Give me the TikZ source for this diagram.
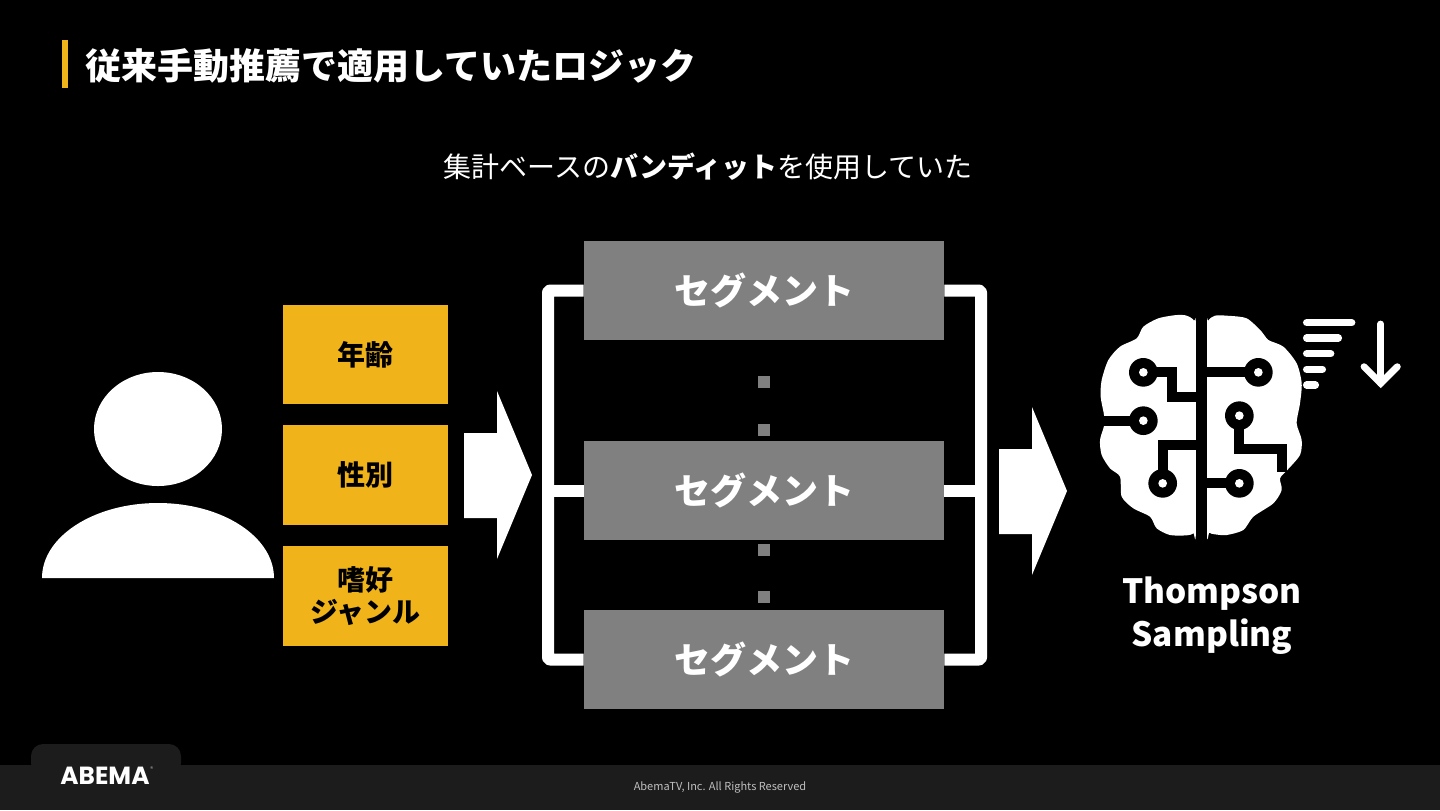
\documentclass[tikz,border=0pt]{standalone}
\usepackage{fontspec}
\setmainfont{Noto Sans CJK JP}
\newfontfamily\logofont{Poppins}
\usetikzlibrary{positioning}
\definecolor{gold}{HTML}{F0B41A}
\definecolor{segray}{HTML}{808080}
\definecolor{footbar}{HTML}{1C1C1C}
\tikzset{%
  attrbox/.style={fill=gold,text=black,inner sep=0pt,minimum width=82.5pt,minimum height=49.8pt,align=center,font=\fontsize{14}{16}\selectfont\bfseries},
  segbox/.style={fill=segray,text=white,inner sep=0pt,minimum width=180pt,minimum height=49.8pt,font=\fontsize{18}{20}\selectfont\bfseries},
  bus/.style={draw=white,line width=6pt,rounded corners=1pt,line join=round},
  ring/.style={fill=black},
  wire/.style={draw=black,line width=5pt},
  bar/.style={draw=white,line width=3.7pt,line cap=round}
}

\begin{document}
\begin{tikzpicture}[x=0.5pt,y=-0.5pt]
  \useasboundingbox (0,0) rectangle (1440,810);
  \fill[black] (0,0) rectangle (1440,810);

  % footer
  \fill[footbar] (0,765) rectangle (1440,810);
  \fill[footbar,rounded corners=6pt] (31,775) -- (31,744) -- (181,744) -- (181,775) -- cycle;
  \node[text=white,inner sep=0pt,font=\fontsize{12.4}{13}\logofont\bfseries] (logo) at (105,776) {ABEMA};
  \node[text=white!70!black,inner sep=0pt,font=\fontsize{3}{3}\selectfont,right=0pt of logo.north east,yshift=-1pt] (regmark) {®};
  \node[text=white!75!black,inner sep=0pt,font=\fontsize{5.5}{6}\selectfont] (copyright) at (720,787) {AbemaTV, Inc. All Rights Reserved};

  % title
  \fill[gold] (62,40) rectangle (68,88);
  \node[anchor=west,text=white,inner sep=0pt,font=\fontsize{18}{20}\selectfont\bfseries] (title) at (85,66) {従来手動推薦で適用していたロジック};
  \node[text=white,inner sep=0pt,font=\fontsize{14}{16}\selectfont] (subtitle) at (708,167) {集計ベースの\textbf{バンディット}を使用していた};

  % person
  \fill[white] (158,429) ellipse [x radius=64,y radius=57];
  \fill[white] (42,578) arc [start angle=180,end angle=0,x radius=116,y radius=-75] -- cycle;

  % attributes
  \node[attrbox] (age) at (365.5,354.5) {年齢};
  \node[attrbox] (sex) at (365.5,475) {性別};
  \node[attrbox] (genre) at (365.5,596) {嗜好\\ジャンル};

  % block arrows
  \fill[white] (464,433) -- (497,433) -- (497,391) -- (532,475) -- (497,559) -- (497,518) -- (464,518) -- cycle;
  \fill[white] (999,449) -- (1032,449) -- (1032,407) -- (1067,491) -- (1032,575) -- (1032,534) -- (999,534) -- cycle;

  % segments
  \foreach \n/\y in {segA/290.5,segB/490.5,segC/659.5}
    \node[segbox] (\n) at (764,\y) {セグメント};
  \coordinate (busL) at (548,490.5);
  \coordinate (busR) at (981,490.5);
  \draw[bus] (segA.west) -| (busL) |- (segC.west);
  \draw[bus] (busL) -- (segB.west);
  \draw[bus] (segA.east) -| (busR) |- (segC.east);
  \draw[bus] (busR) -- (segB.east);

  % dots between the segments
  \foreach \y in {382,430,549.5,597}
    \fill[segray] (758,\y-6) rectangle (770,\y+6);

  % brain
  \begin{scope}[shift={(1080,300)},x=0.16667pt,y=-0.16667pt]
    \fill[white] plot[smooth cycle,tension=0.45] coordinates {(348,100) (342,62) (320,47) (290,45) (235,55) (190,80) (170,115) (120,140) (85,180) (65,240) (62,290) (72,345) (72,378) (60,420) (65,465) (90,505) (120,530) (125,590) (160,625) (210,650) (230,685) (270,705) (320,706) (340,700) (348,680)};
    \fill[white] plot[smooth cycle,tension=0.45] coordinates {(380,100) (385,62) (405,47) (440,47) (500,55) (545,95) (565,120) (610,140) (650,190) (665,250) (660,310) (650,370) (665,420) (660,465) (622,510) (600,535) (605,570) (580,610) (520,650) (490,690) (440,705) (405,703) (388,698) (380,680)};
    \fill[black] (348,30) rectangle (380,720);
    \draw[wire] (190,217) -- (277,217) -- (277,290) -- (360,290);
    \draw[wire] (190,362) -- (50,362);
    \draw[wire] (248,550) -- (248,435) -- (360,435);
    \draw[wire] (535,217) -- (360,217);
    \draw[wire] (478,347) -- (478,448) -- (607,448) -- (607,515);
    \draw[wire] (478,550) -- (360,550);
    \foreach \x/\y in {190/217,190/362,248/550,535/217,478/347,478/550} {
      \fill[ring] (\x,\y) circle [radius=43];
      \fill[white] (\x,\y) circle [radius=13];
    }
    \foreach \y/\e in {68/815,114/775,161/752,208/727,255/706}
      \draw[bar] (680,\y) -- (\e,\y);
    \draw[white,line width=3.4pt,line cap=round,line join=round] (902,72) -- (902,250);
    \draw[white,line width=3.4pt,line cap=round,line join=miter] (852,200) -- (902,250) -- (952,200);
  \end{scope}

  \node[text=white,inner sep=0pt,align=center,font=\fontsize{16.7}{21.5}\selectfont\bfseries] (ts) at (1212,616) {Thompson\\Sampling};
\end{tikzpicture}
\end{document}
